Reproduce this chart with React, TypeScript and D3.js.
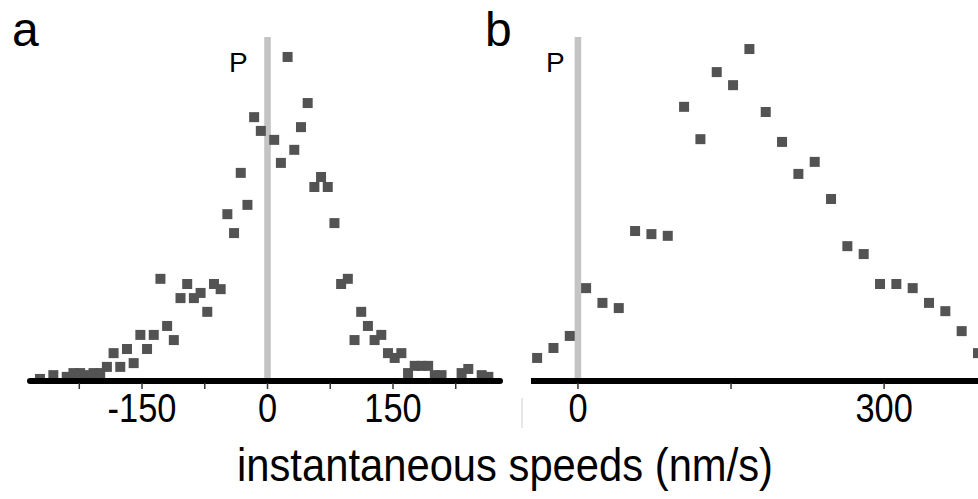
import React from "react";
import * as d3 from "d3";

// Panel a: speed bins (nm/s) and relative frequencies (a.u.)
const speedsA = [-272, -256, -240, -232, -224, -216, -208, -200, -192, -184, -176, -168, -160, -152, -144, -136, -128, -120, -112, -104, -96, -88, -80, -72, -64, -56, -48, -40, -32, -24, -16, -8, 8, 16, 24, 32, 40, 48, 56, 64, 72, 80, 88, 96, 104, 112, 120, 128, 136, 144, 152, 160, 168, 176, 184, 192, 200, 208, 232, 240, 256, 264];
const freqA = [0.6, 1.7, 1.2, 2.3, 2.3, 1.7, 2.3, 2.3, 4.1, 8.1, 4.1, 9.3, 5.2, 13.4, 9.3, 13.4, 29.7, 16.0, 11.9, 24.1, 28.2, 24.1, 25.6, 20.1, 28.2, 26.7, 48.5, 43.0, 60.5, 51.2, 76.7, 72.7, 70.1, 63.4, 94.2, 67.2, 73.8, 80.8, 56.4, 59.3, 56.4, 45.9, 28.2, 29.7, 11.9, 20.1, 16.0, 11.9, 13.4, 8.1, 6.7, 8.1, 2.3, 4.4, 4.4, 4.4, 1.7, 1.7, 2.3, 3.5, 1.7, 1.2];

// Panel b
const speedsB = [-40, -24, -8, 8, 24, 40, 56, 72, 88, 104, 120, 136, 152, 168, 184, 200, 216, 232, 248, 264, 280, 296, 312, 328, 344, 360, 376, 392];
const freqB = [6.7, 9.6, 13.1, 27.0, 22.7, 21.2, 43.6, 42.7, 42.2, 79.7, 70.3, 89.8, 86.0, 96.5, 78.2, 69.5, 60.2, 63.7, 52.9, 39.2, 36.9, 28.2, 28.2, 27.0, 22.7, 20.3, 14.5, 8.1];

const ticksA = [-225, -150, -75, 0, 75, 150, 225];
const tickLabelsA = [-150, 0, 150];
const ticksB = [0, 150, 300];
const tickLabelsB = [0, 300];

const xLabel = "instantaneous speeds (nm/s)";

const W = 978;
const H = 499;
const base = 381;
const M = 10;
const markColor = "#535353";
const font = "'Liberation Sans', Arial, sans-serif";

export default function App() {
  const y = d3.scaleLinear().domain([0, 100]).range([base, 37]);
  const xA = d3.scaleLinear().domain([-287.5, 277.9]).range([27, 500]);
  const xB = d3.scaleLinear().domain([-46, 392]).range([531, 978]);

  const panel = (
    x: d3.ScaleLinear<number, number>,
    speeds: number[],
    freq: number[],
    ticks: number[],
    labels: number[],
    key: string,
    roundLeft: boolean
  ) => {
    const [r0, r1] = x.range();
    return (
      <g key={key}>
        <rect x={x(0) - 3.3} y={37} width={6.6} height={base - 37} fill="#c4c4c4" />
        {speeds.map((s, i) => (
          <rect
            key={i}
            x={x(s) - M / 2}
            y={y(freq[i]) - M / 2}
            width={M}
            height={M}
            fill={markColor}
          />
        ))}
        <line x1={r0 + (roundLeft ? 3 : 0)} x2={r1} y1={base} y2={base} stroke="#000" strokeWidth={6} strokeLinecap={roundLeft ? "round" : "butt"} />
        {ticks.map((t) => (
          <line key={t} x1={x(t)} x2={x(t)} y1={base + 2} y2={base + 8} stroke="#333" strokeWidth={1.5} />
        ))}
        {labels.map((t) => (
          <text
            key={t}
            transform={`translate(${x(t)},${422}) scale(0.86,1)`}
            textAnchor="middle"
            fontFamily={font}
            fontSize={40}
            fill="#000"
          >
            {t}
          </text>
        ))}
      </g>
    );
  };

  return (
    <svg width={W} height={H} style={{ position: "absolute", left: 0, top: 0, background: "#fff" }}>
      <rect x={0} y={0} width={W} height={H} fill="#fff" />
      {panel(xA, speedsA, freqA, ticksA, tickLabelsA, "a", true)}
      {panel(xB, speedsB, freqB, ticksB, tickLabelsB, "b", false)}
      <line x1={522} x2={522} y1={398} y2={428} stroke="#d0d0d0" strokeWidth={1} />
      <text x={12} y={46} fontFamily={font} fontSize={48} fill="#000">a</text>
      <text x={485} y={46} fontFamily={font} fontSize={48} fill="#000">b</text>
      <text x={229} y={72} fontFamily={font} fontSize={28} fill="#000">P</text>
      <text x={546} y={72} fontFamily={font} fontSize={28} fill="#000">P</text>
      <text
        x={505}
        y={481}
        textAnchor="middle"
        fontFamily={font}
        fontSize={47}
        textLength={536}
        lengthAdjust="spacingAndGlyphs"
        fill="#000"
      >
        {xLabel}
      </text>
    </svg>
  );
}
